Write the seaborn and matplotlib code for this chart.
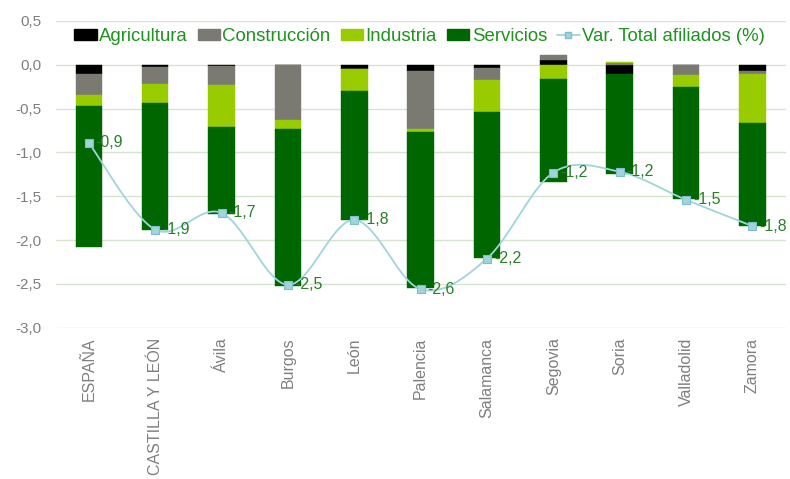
import numpy as np
import pandas as pd
import matplotlib
matplotlib.use("Agg")
import matplotlib.pyplot as plt
import seaborn as sns
from matplotlib.patches import Patch
from matplotlib.lines import Line2D

categories = ["ESPAÑA", "CASTILLA Y LEÓN", "Ávila", "Burgos", "León", "Palencia",
              "Salamanca", "Segovia", "Soria", "Valladolid", "Zamora"]
agricultura = [-0.11, -0.02, -0.01, -0.005, -0.045, -0.068, -0.038, 0.05, -0.11, 0.0, -0.076]
construccion = [-0.236, -0.20, -0.22, -0.628, -0.005, -0.662, -0.133, 0.065, 0.023, -0.114, -0.026]
industria = [-0.126, -0.217, -0.476, -0.095, -0.25, -0.038, -0.373, -0.16, 0.012, -0.14, -0.567]
servicios = [-1.605, -1.446, -1.0, -1.79, -1.465, -1.78, -1.66, -1.18, -1.13, -1.28, -1.166]
var_total = [-0.89, -1.88, -1.69, -2.51, -1.77, -2.56, -2.21, -1.23, -1.22, -1.54, -1.84]
y_ticks = [0.5, 0.0, -0.5, -1.0, -1.5, -2.0, -2.5, -3.0]

series_names = ["Agricultura", "Construcción", "Industria", "Servicios"]
series_colors = ["#000000", "#7a7a72", "#99cc00", "#006600"]
line_name = "Var. Total afiliados (%)"
line_color = "#9fd4dd"
marker_face = "#a3d3dc"
marker_edge = "#7dbfcb"
label_green = "#2a7f2a"
legend_green = "#1f931f"
tick_gray = "#7f7f7f"
grid_color = "#d6e3cf"

sns.set_theme(style="white")
plt.rcParams['font.family'] = ['Liberation Sans', 'DejaVu Sans']

fig = plt.figure(figsize=(7.9, 4.79), dpi=100)
ax = fig.add_axes([0.0704, 0.3157, 0.924, 0.6405])

df = pd.DataFrame({"cat": categories, "Agricultura": agricultura,
                   "Construcción": construccion, "Industria": industria,
                   "Servicios": servicios})

pos_bottom = np.zeros(len(categories))
neg_bottom = np.zeros(len(categories))
for name, color in zip(series_names, series_colors):
    v = df[name].to_numpy(dtype=float)
    bottom = np.where(v >= 0, pos_bottom, neg_bottom)
    sns.barplot(x=df["cat"], y=v, bottom=bottom, order=categories, color=color,
                saturation=1, width=0.4, errorbar=None, ax=ax,
                edgecolor=color, linewidth=0.3)
    pos_bottom = pos_bottom + np.where(v >= 0, v, 0)
    neg_bottom = neg_bottom + np.where(v < 0, v, 0)

# smoothed line (Bezier through the data points, like Excel's smoothed line)
xs = np.arange(len(var_total), dtype=float)
ys = np.array(var_total, dtype=float)
px = np.concatenate([[xs[0]], xs, [xs[-1]]])
py = np.concatenate([[ys[0]], ys, [ys[-1]]])
sx, sy = [], []
t = np.linspace(0, 1, 30)
for i in range(1, len(px) - 2):
    p0x, p1x, p2x, p3x = px[i - 1], px[i], px[i + 1], px[i + 2]
    p0y, p1y, p2y, p3y = py[i - 1], py[i], py[i + 1], py[i + 2]
    c1x, c1y = p1x + (p2x - p0x) / 6, p1y + (p2y - p0y) / 6
    c2x, c2y = p2x - (p3x - p1x) / 6, p2y - (p3y - p1y) / 6
    bx = (1 - t) ** 3 * p1x + 3 * (1 - t) ** 2 * t * c1x + 3 * (1 - t) * t ** 2 * c2x + t ** 3 * p2x
    by = (1 - t) ** 3 * p1y + 3 * (1 - t) ** 2 * t * c1y + 3 * (1 - t) * t ** 2 * c2y + t ** 3 * p2y
    sx.extend(bx)
    sy.extend(by)
curve = pd.DataFrame({"x": sx, "y": sy})
sns.lineplot(data=curve, x="x", y="y", sort=False, color=line_color, linewidth=1.3,
             ax=ax, zorder=4)
pts = pd.DataFrame({"x": xs, "y": ys})
sns.scatterplot(data=pts, x="x", y="y", marker="s", s=30, color=marker_face,
                edgecolor=marker_edge, linewidth=0.8, ax=ax, zorder=5)

for i, v in enumerate(var_total):
    ax.annotate(f"{v:.1f}".replace(".", ","), (i, v), xytext=(5, 0),
                textcoords="offset points", ha="left", va="center",
                color=label_green, fontsize=11.5, zorder=6)

ax.set_xlim(-0.5, len(categories) - 0.5)
ax.set_ylim(-3.0, 0.5)
ax.set_yticks(y_ticks)
ax.set_yticklabels([f"{v:.1f}".replace(".", ",") for v in y_ticks])
ax.set_xticks(range(len(categories)))
ax.set_xticklabels(categories, rotation=90)
ax.set_xlabel("")
ax.set_ylabel("")
ax.tick_params(axis="x", length=0, pad=7, labelsize=11.5, colors=tick_gray)
ax.tick_params(axis="y", length=0, pad=10, labelsize=11, colors=tick_gray)
ax.yaxis.grid(True, color=grid_color, linewidth=1)
ax.xaxis.grid(False)
ax.set_axisbelow(True)
for s in ax.spines.values():
    s.set_visible(False)

handles = [Patch(facecolor=c, edgecolor=c) for c in series_colors]
handles.append(Line2D([0], [0], color=line_color, linewidth=1.3, marker="s",
                      markersize=5, markerfacecolor=marker_face,
                      markeredgecolor=marker_edge))
fig.legend(handles, series_names + [line_name], loc="center",
           bbox_to_anchor=(0.531, 0.923), ncol=5, frameon=False, fontsize=13.4,
           handlelength=1.2, handleheight=0.5, handletextpad=0.12,
           columnspacing=0.55, labelcolor=legend_green, borderaxespad=0)

fig.savefig("out.png", dpi=100)
